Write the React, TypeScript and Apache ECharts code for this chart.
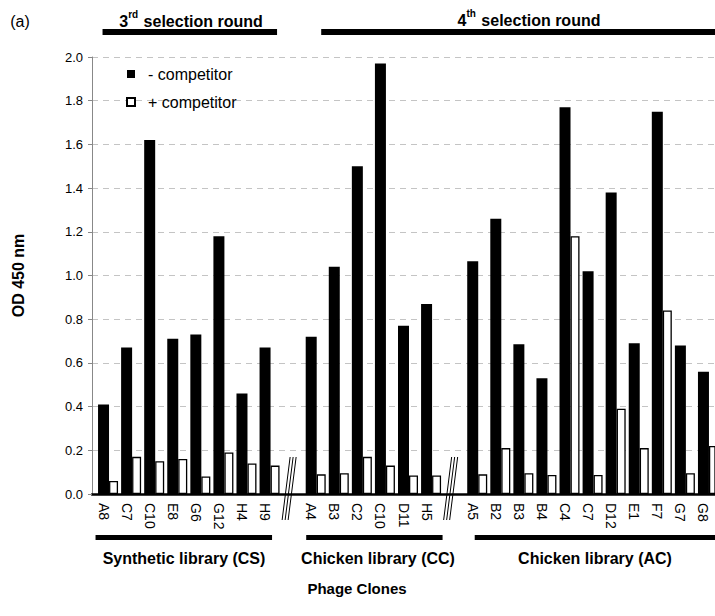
import React, { useEffect, useRef } from "react";
import * as echarts from "echarts";

// Phage clones per library
const csClones = ["A8", "C7", "C10", "E8", "G6", "G12", "H4", "H9"];
const ccClones = ["A4", "B3", "C2", "C10", "D11", "H5"];
const acClones = ["A5", "B2", "B3", "B4", "C4", "C7", "D12", "E1", "F7", "G7", "G8"];

// OD 450 nm without competitor
const csMinus = [0.41, 0.67, 1.62, 0.71, 0.73, 1.18, 0.46, 0.67];
const ccMinus = [0.72, 1.04, 1.5, 1.97, 0.77, 0.87];
const acMinus = [1.065, 1.26, 0.685, 0.53, 1.77, 1.02, 1.38, 0.69, 1.75, 0.68, 0.56];

// OD 450 nm with competitor
const csPlus = [0.06, 0.17, 0.15, 0.16, 0.08, 0.19, 0.14, 0.13];
const ccPlus = [0.09, 0.095, 0.17, 0.13, 0.085, 0.085];
const acPlus = [0.09, 0.21, 0.095, 0.087, 1.18, 0.087, 0.39, 0.21, 0.84, 0.095, 0.22];

const yTicks = [0, 0.2, 0.4, 0.6, 0.8, 1.0, 1.2, 1.4, 1.6, 1.8, 2.0];

const FONT = "'Liberation Sans', Arial, Helvetica, sans-serif";

// Axis categories with an empty slot for each axis break
const categories = [...csClones, "", ...ccClones, "", ...acClones];
const minusData = [...csMinus, "-", ...ccMinus, "-", ...acMinus];
const plusData = [...csPlus, "-", ...ccPlus, "-", ...acPlus];
const breakSlots = [csClones.length, csClones.length + 1 + ccClones.length];

export default function App() {
  const ref = useRef<HTMLDivElement>(null);

  useEffect(() => {
    if (!ref.current) return;
    const chart = echarts.init(ref.current, null, { renderer: "svg" });
    chart.setOption({
      animation: false,
      backgroundColor: "#fff",
      textStyle: { fontFamily: FONT },
      grid: { left: 92, right: 0, top: 57, bottom: 122, containLabel: false },
      legend: {
        data: ["- competitor", "+ competitor"],
        orient: "vertical",
        left: 126,
        top: 66,
        padding: 0,
        itemWidth: 8,
        itemHeight: 8,
        itemGap: 12,
        icon: "rect",
        textStyle: { fontSize: 16, color: "#000", fontFamily: FONT, lineHeight: 16, padding: [0, 0, 0, 8] },
      },
      xAxis: {
        type: "category",
        data: categories,
        axisLine: { lineStyle: { color: "#000", width: 2.5 } },
        axisTick: { show: false },
        axisLabel: {
          interval: 0,
          rotate: -90,
          fontSize: 14,
          color: "#000",
          margin: 9,
          fontFamily: FONT,
        },
      },
      yAxis: {
        type: "value",
        min: 0,
        max: 2,
        interval: 0.2,
        name: "OD 450 nm",
        nameLocation: "middle",
        nameRotate: 90,
        nameGap: 66,
        nameTextStyle: { fontSize: 16, fontWeight: "bold", color: "#000", fontFamily: FONT },
        axisLine: { show: true, lineStyle: { color: "#888", width: 1 } },
        axisTick: { show: true, length: 4, lineStyle: { color: "#888" } },
        axisLabel: {
          fontSize: 13,
          color: "#000",
          margin: 9,
          fontFamily: FONT,
          customValues: yTicks,
          formatter: (v: number) => v.toFixed(1),
        },
        splitLine: { show: true, lineStyle: { color: "#c4c4c4", type: [6, 5], width: 1 } },
      },
      series: [
        {
          // keeps the black bar centred over its clone label
          name: "offset",
          type: "bar",
          data: [],
          barWidth: 9,
          barGap: "0%",
          silent: true,
        },
        {
          name: "- competitor",
          type: "bar",
          data: minusData,
          barWidth: 11,
          barGap: "0%",
          itemStyle: { color: "#000" },
        },
        {
          name: "+ competitor",
          type: "bar",
          data: plusData,
          barWidth: 9,
          barGap: "0%",
          itemStyle: { color: "#fff", borderColor: "#000", borderWidth: 1.3 },
        },
      ],
    });

    const px = (i: number) => chart.convertToPixel({ xAxisIndex: 0 }, i) as number;
    const W = 715;
    const ccStart = csClones.length + 1;
    const acStart = ccStart + ccClones.length + 1;

    const bar = (x1: number, x2: number, y: number, h: number) => ({
      type: "rect",
      shape: { x: x1, y, width: x2 - x1, height: h },
      style: { fill: "#000" },
    });
    const label = (text: string, x: number, y: number, size: number, bold = true) => ({
      type: "text",
      x,
      y,
      style: {
        text,
        fontSize: size,
        fontWeight: bold ? "bold" : "normal",
        fontFamily: FONT,
        fill: "#000",
        align: "center",
        verticalAlign: "middle",
      },
    });
    const roundTitle = (num: string, sup: string, x: number, y: number) => ({
      type: "text",
      x,
      y,
      style: {
        text: `{b|${num}}{s|${sup}}{b| selection round}`,
        align: "center",
        verticalAlign: "middle",
        fill: "#000",
        rich: {
          b: { fontSize: 16, fontWeight: "bold", fontFamily: FONT, lineHeight: 20, verticalAlign: "bottom" },
          s: { fontSize: 10, fontWeight: "bold", fontFamily: FONT, lineHeight: 20, verticalAlign: "top", padding: [0, 1, 0, 0] },
        },
      },
    });

    const breaks: any[] = [];
    breakSlots.forEach((slot) => {
      const c = px(slot);
      for (let k = 0; k < 3; k++) {
        breaks.push({
          type: "line",
          shape: { x1: c - 6 + 3 * k, y1: 520, x2: c + 2 + 3 * k, y2: 457 },
          style: { stroke: "#000", lineWidth: 1 },
        });
      }
    });

    chart.setOption({
      graphic: [
        label("(a)", 20, 21, 16, false),
        roundTitle("3", "rd", 191, 19),
        roundTitle("4", "th", 529, 18),
        bar(px(0) - 1, px(csClones.length - 1) + 12, 29, 6),
        bar(px(ccStart) + 10, W, 29, 6),
        bar(px(0) - 8, px(csClones.length - 1) + 7, 535, 5),
        bar(px(ccStart) - 5, px(acStart - 2) + 16, 535, 5),
        bar(px(acStart) + 2, W, 535, 5),
        label("Synthetic library (CS)", 184, 558, 16),
        label("Chicken library (CC)", 378, 558, 16),
        label("Chicken library (AC)", 595, 558, 16),
        label("Phage Clones", 357, 588, 15),
        ...breaks,
      ],
    });

    return () => chart.dispose();
  }, []);

  return (
    <div
      ref={ref}
      style={{ position: "fixed", left: 0, top: 0, width: 715, height: 616, background: "#fff" }}
    />
  );
}
